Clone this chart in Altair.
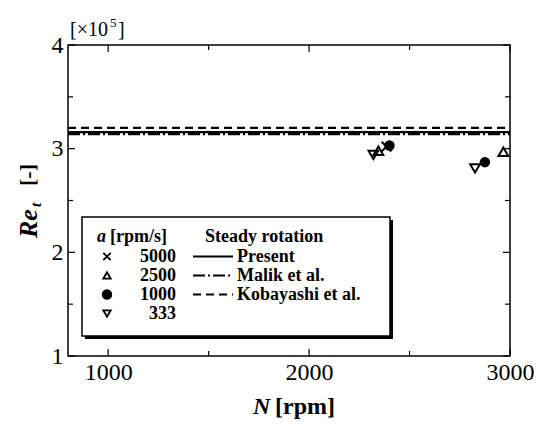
import altair as alt
import pandas as pd

# ---------------- data ----------------
N_pts = [2320, 2345, 2385, 2400, 2826, 2875, 2967]
Re_pts = [2.94, 2.98, 3.02, 3.03, 2.81, 2.87, 2.97]
a_pts = ["333", "2500", "5000", "1000", "333", "1000", "2500"]

line_series = ["Present", "Malik et al.", "Kobayashi et al."]
line_Re = [3.16, 3.14, 3.20]
x_range = [800, 3000]

legend_a = ["5000", "2500", "1000", "333"]

x_ticks_major = [1000, 2000, 3000]
x_ticks_minor = [1500, 2500]
y_ticks_major = [1, 2, 3, 4]
y_ticks_minor = [1.5, 2.5, 3.5]

FONT = "'Liberation Serif', 'Times New Roman', Times, serif"
W, H = 442, 311
XPATH = "M-1,-1L1,1M1,-1L-1,1"

pts = pd.DataFrame({"N": N_pts, "Re": Re_pts, "a": a_pts})
lines = pd.DataFrame(
    [{"series": s, "N": x, "Re": r} for s, r in zip(line_series, line_Re) for x in x_range]
)
one = pd.DataFrame({"k": [0]})

xs = alt.Scale(domain=[800, 3000], nice=False, zero=False)
ys = alt.Scale(domain=[1, 4], nice=False, zero=False)

xaxis = alt.Axis(values=x_ticks_major, title=None, ticks=False, domain=False, grid=False,
                 labelFont=FONT, labelFontSize=24, labelColor="black", labelPadding=4,
                 labelFlush=False, labelOverlap=False, labelBound=False, format="d")
yaxis = alt.Axis(values=y_ticks_major, title=None, ticks=False, domain=False, grid=False,
                 labelFont=FONT, labelFontSize=24, labelColor="black", labelPadding=5,
                 labelFlush=False, labelOverlap=False, labelBound=False, format="d")

base = alt.Chart(pts)

axes_layer = base.mark_point(opacity=0).encode(
    x=alt.X("N:Q", scale=xs, axis=xaxis),
    y=alt.Y("Re:Q", scale=ys, axis=yaxis),
)

dash_map = {"Present": [1, 0], "Malik et al.": [12, 3, 2, 3], "Kobayashi et al.": [8, 5]}
line_layers = []
for s in line_series:
    line_layers.append(
        alt.Chart(lines).transform_filter(alt.datum.series == s)
        .mark_line(color="black", strokeWidth=2.2, strokeDash=dash_map[s])
        .encode(x=alt.X("N:Q", scale=xs), y=alt.Y("Re:Q", scale=ys))
    )

def xticks(vals, length):
    df = pd.DataFrame({"v": vals})
    b = alt.Chart(df).mark_rule(color="black", strokeWidth=1.2)
    return [
        b.encode(x=alt.X("v:Q", scale=xs), y=alt.value(H), y2=alt.value(H - length)),
        b.encode(x=alt.X("v:Q", scale=xs), y=alt.value(0), y2=alt.value(length)),
    ]

def yticks(vals, length):
    df = pd.DataFrame({"v": vals})
    b = alt.Chart(df).mark_rule(color="black", strokeWidth=1.2)
    return [
        b.encode(y=alt.Y("v:Q", scale=ys), x=alt.value(0), x2=alt.value(length)),
        b.encode(y=alt.Y("v:Q", scale=ys), x=alt.value(W), x2=alt.value(W - length)),
    ]

tick_layers = xticks(x_ticks_major, 7) + xticks(x_ticks_minor, 5) + yticks(y_ticks_major, 7) + yticks(y_ticks_minor, 5)

open_pts = base.transform_filter(alt.datum.a != "1000").mark_point(
    filled=False, stroke="black", strokeWidth=2, size=95, opacity=1
).encode(
    x=alt.X("N:Q", scale=xs),
    y=alt.Y("Re:Q", scale=ys),
    shape=alt.Shape("a:N", scale=alt.Scale(domain=["5000", "2500", "333"],
                                           range=[XPATH, "triangle-up", "triangle-down"]), legend=None),
)
filled_pts = base.transform_filter(alt.datum.a == "1000").mark_point(
    filled=True, color="black", shape="circle", size=110, opacity=1
).encode(x=alt.X("N:Q", scale=xs), y=alt.Y("Re:Q", scale=ys))

def txt(s, x, y, size, weight="bold", style="normal", align="left", angle=0, baseline="middle"):
    return alt.Chart(one).mark_text(
        text=s, fontSize=size, fontWeight=weight, fontStyle=style, align=align,
        baseline=baseline, angle=angle, font=FONT, color="black"
    ).encode(x=alt.value(x), y=alt.value(y))

bx0, bx1, by0, by1 = 14, 322, 172, 291
shadow = alt.Chart(one).mark_rect(fill="black").encode(
    x=alt.value(bx0 + 3), x2=alt.value(bx1 + 3), y=alt.value(by0 + 3), y2=alt.value(by1 + 3))
box = alt.Chart(one).mark_rect(fill="white", stroke="black", strokeWidth=1.5).encode(
    x=alt.value(bx0), x2=alt.value(bx1), y=alt.value(by0), y2=alt.value(by1))

rows_y = [211.5, 230.5, 249.5, 268.5]
hdr_y = 192
leg = [shadow, box,
       txt("a", 29, hdr_y, 18, style="italic"),
       txt("[rpm/s]", 42, hdr_y, 18),
       txt("Steady rotation", 137, hdr_y, 18)]
sym_shapes = {"5000": XPATH, "2500": "triangle-up", "1000": "circle", "333": "triangle-down"}
for a, yy in zip(legend_a, rows_y):
    filled = a == "1000"
    leg.append(alt.Chart(one).mark_point(
        shape=sym_shapes[a], filled=filled, color="black", stroke="black",
        strokeWidth=1.8, size=75 if filled else 55, opacity=1
    ).encode(x=alt.value(39), y=alt.value(yy)))
    leg.append(txt(a, 108, yy, 18, align="right"))
for s, yy in zip(line_series, rows_y):
    leg.append(alt.Chart(one).mark_rule(color="black", strokeWidth=1.8, strokeDash=dash_map[s]).encode(
        x=alt.value(125), x2=alt.value(165), y=alt.value(yy)))
    leg.append(txt(s, 169, yy, 18))

titles = [
    txt("N", 185, 369, 24, style="italic", baseline="alphabetic"),
    txt("[rpm]", 207, 369, 24, baseline="alphabetic"),
    txt("Re", -31, 193, 26, style="italic", angle=270, baseline="alphabetic"),
    txt("t", -27, 162, 15, style="italic", angle=270, baseline="alphabetic"),
    txt("[-]", -33, 141, 22, angle=270, baseline="alphabetic"),
    txt("[×10", 2, -9, 20, weight="normal", baseline="alphabetic"),
    txt("5", 42, -18, 13, weight="normal", baseline="alphabetic"),
    txt("]", 50, -9, 20, weight="normal", baseline="alphabetic"),
]

chart = alt.layer(
    axes_layer, *line_layers, *tick_layers, *leg, open_pts, filled_pts, *titles
).properties(
    width=W, height=H,
    autosize=alt.AutoSizeParams(type="none"),
    padding={"left": 68, "top": 45, "right": 27, "bottom": 69},
    background="white",
).configure_view(stroke="black", strokeWidth=1.5)

chart.save("out.html", embed_options={"renderer": "svg", "actions": False})
